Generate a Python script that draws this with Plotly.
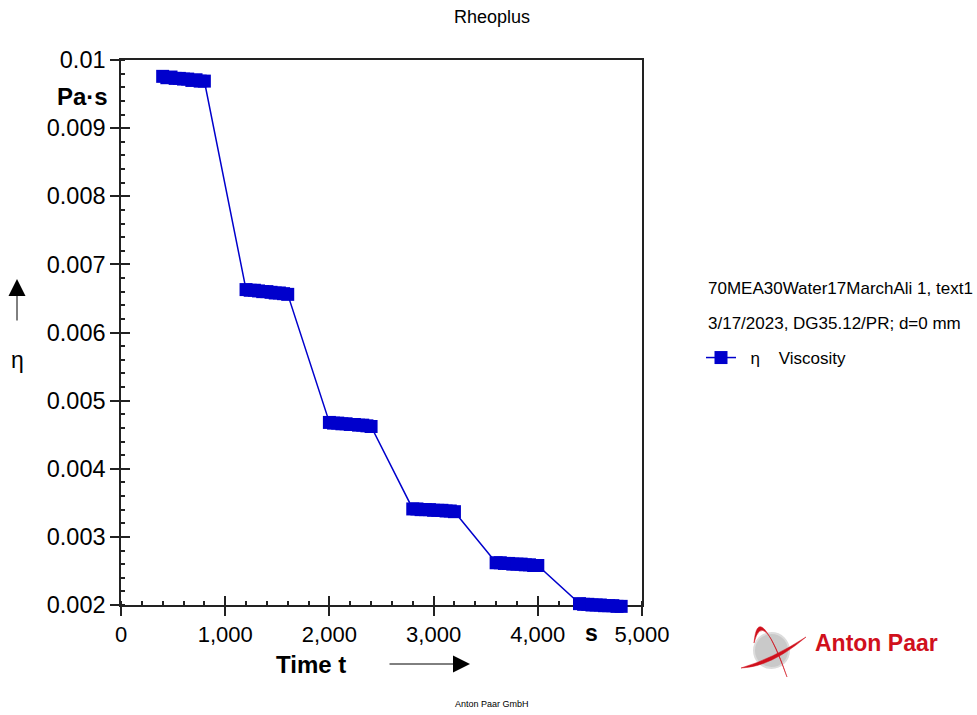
import plotly.graph_objects as go

# ---- measurement data: viscosity steps over time ----
time_s = [
    400, 440, 480, 520, 560, 600, 640, 680, 720, 760, 800,
    1200, 1240, 1280, 1320, 1360, 1400, 1440, 1480, 1520, 1560, 1600,
    2000, 2040, 2080, 2120, 2160, 2200, 2240, 2280, 2320, 2360, 2400,
    2800, 2840, 2880, 2920, 2960, 3000, 3040, 3080, 3120, 3160, 3200,
    3600, 3640, 3680, 3720, 3760, 3800, 3840, 3880, 3920, 3960, 4000,
    4400, 4440, 4480, 4520, 4560, 4600, 4640, 4680, 4720, 4760, 4800,
]
viscosity_pas = [
    0.00976, 0.00974, 0.00975, 0.00973, 0.00973, 0.00972, 0.00972, 0.00970, 0.00971, 0.00969, 0.00969,
    0.00663, 0.00662, 0.00662, 0.00661, 0.00660, 0.00660, 0.00659, 0.00658, 0.00658, 0.00657, 0.00656,
    0.00468, 0.00467, 0.00467, 0.00466, 0.00466, 0.00465, 0.00465, 0.00464, 0.00464, 0.00463, 0.00462,
    0.00341, 0.00341, 0.00340, 0.00340, 0.00340, 0.00339, 0.00339, 0.00339, 0.00338, 0.00338, 0.00337,
    0.00262, 0.00262, 0.00261, 0.00261, 0.00260, 0.00260, 0.00260, 0.00259, 0.00259, 0.00258, 0.00258,
    0.00202, 0.00201, 0.00201, 0.00200, 0.00200, 0.00200, 0.00199, 0.00199, 0.00199, 0.00198, 0.00198,
]

y_tickvals = [0.002, 0.003, 0.004, 0.005, 0.006, 0.007, 0.008, 0.009, 0.01]
y_ticktext = ["0.002", "0.003", "0.004", "0.005", "0.006", "0.007", "0.008", "0.009", "0.01"]
x_tickvals = [0, 1000, 2000, 3000, 4000, 5000]
x_ticktext = ["0", "1,000", "2,000", "3,000", "4,000", "5,000"]
Y_MIN, Y_MAX = 0.002, 0.01
X_MIN, X_MAX = 0, 5000

FONT = "Liberation Sans, Arial, sans-serif"
BLUE = "rgb(0,0,204)"
RED = "#d0101c"
W, H = 977, 715
L, R, T = 121, 642, 60   # plot frame (pixels)
B_AXIS = 605             # pixel row of the x axis line
B_EXT = 640              # data layer extends below the axis so markers are not hidden

dom_lo = (B_EXT - B_AXIS) / (B_EXT - T)
y_ext_min = Y_MAX - (Y_MAX - Y_MIN) / (1 - dom_lo)


def px(x):
    return (x - L) / (R - L)


def py(y):
    return (B_EXT - y) / (B_EXT - T)


def path(points_and_cmds):
    out = []
    for item in points_and_cmds:
        if isinstance(item, str):
            out.append(item)
        else:
            out.append(f"{px(item[0]):.5f},{py(item[1]):.5f}")
    return " ".join(out)


fig = go.Figure()
# empty traces so the framed axes and the crossing-tick overlay axes get drawn
fig.add_trace(go.Scatter(x=[], y=[], xaxis="x", yaxis="y", showlegend=False,
                         hoverinfo="skip"))
fig.add_trace(go.Scatter(x=[], y=[], xaxis="x2", yaxis="y2", showlegend=False,
                         hoverinfo="skip"))
fig.add_trace(go.Scatter(
    x=time_s, y=viscosity_pas, mode="lines+markers", xaxis="x", yaxis="y3",
    name="\u00a0\u00a0η\u00a0\u00a0\u00a0\u00a0Viscosity",
    line=dict(color=BLUE, width=1.5),
    marker=dict(symbol="square", size=13, color=BLUE, line=dict(width=0)),
    cliponaxis=False,
))

axis_line = dict(showline=True, linecolor="#222", linewidth=1.5, mirror=True,
                 showgrid=False, zeroline=False)
tick_style = dict(ticklen=9, tickwidth=1.5, tickcolor="#222")

fig.update_layout(
    width=W, height=H,
    margin=dict(l=L, r=W - R, t=T, b=H - B_EXT, pad=0),
    plot_bgcolor="rgba(0,0,0,0)", paper_bgcolor="white",
    font=dict(family=FONT, color="black"),
    title=dict(text="Rheoplus", x=492 / W, xanchor="center", y=1 - 17 / H,
               yanchor="middle", font=dict(size=18, family=FONT)),
    xaxis=dict(range=[X_MIN, X_MAX], tickvals=x_tickvals, ticktext=x_ticktext,
               ticks="outside", **tick_style, anchor="y",
               tickfont=dict(size=22), minor=dict(ticks="inside", dtick=200, ticklen=4,
                                                   tickcolor="#222", tickwidth=1.5),
               **axis_line),
    yaxis=dict(range=[Y_MIN, Y_MAX], domain=[dom_lo, 1], anchor="x", tickvals=y_tickvals,
               ticktext=y_ticktext, ticks="outside", **tick_style,
               tickfont=dict(size=23.5), minor=dict(ticks="inside", dtick=0.0002, ticklen=4,
                                                     tickcolor="#222", tickwidth=1.5),
               **axis_line),
    xaxis2=dict(overlaying="x", anchor="y", side="bottom", range=[X_MIN, X_MAX],
                tickvals=x_tickvals, ticks="inside", **tick_style,
                showticklabels=False, showgrid=False, zeroline=False, showline=False),
    yaxis2=dict(overlaying="y", anchor="x", side="left", range=[Y_MIN, Y_MAX],
                tickvals=y_tickvals, ticks="inside", **tick_style,
                showticklabels=False, showgrid=False, zeroline=False, showline=False),
    yaxis3=dict(domain=[0, 1], range=[y_ext_min, Y_MAX], anchor="x", visible=False),
    showlegend=True,
    legend=dict(xref="container", yref="container", x=701 / W, y=1 - 358 / H,
                xanchor="left", yanchor="middle", font=dict(size=17, family=FONT),
                bgcolor="rgba(0,0,0,0)", borderwidth=0, itemwidth=30),
)

annotations = [
    dict(x=px(82), y=py(97), text="<b>Pa·s</b>", font=dict(size=24)),
    dict(x=px(17), y=py(360), text="η", font=dict(size=23)),
    dict(x=px(311), y=py(664), text="<b>Time t</b>", font=dict(size=24)),
    dict(x=px(591), y=py(633), text="<b>s</b>", font=dict(size=23)),
    dict(x=px(706), y=py(288), text="70MEA30Water17MarchAli 1, text1",
         xanchor="left", font=dict(size=17)),
    dict(x=px(706), y=py(323), text="3/17/2023, DG35.12/PR; d=0 mm",
         xanchor="left", font=dict(size=17)),
    dict(x=px(492), y=py(704), text="Anton Paar GmbH", font=dict(size=9)),
    dict(x=px(876), y=py(643), text="<b>Anton Paar</b>", font=dict(size=23, color=RED)),
    # axis direction arrows
    dict(x=px(17), y=py(279), ax=0, ay=43, text="", showarrow=True,
         arrowhead=2, arrowsize=3.4, arrowwidth=1, arrowcolor="black",
         font=dict(size=10)),
    dict(x=px(470), y=py(664), ax=-82, ay=0, text="", showarrow=True,
         arrowhead=2, arrowsize=3.4, arrowwidth=1, arrowcolor="black",
         font=dict(size=10)),
]
for a in annotations:
    a.setdefault("xref", "paper")
    a.setdefault("yref", "paper")
    a.setdefault("showarrow", False)
    a.setdefault("xanchor", "center")
    a.setdefault("yanchor", "middle")
    a["font"] = dict(family=FONT, color=a["font"].get("color", "black"),
                     size=a["font"]["size"])
    fig.add_annotation(**a)

# company logo: grey globe with red orbit swooshes
fig.add_shape(type="circle", xref="paper", yref="paper",
              x0=px(754), x1=px(789), y0=py(668), y1=py(633),
              fillcolor="#c9c9c9", line=dict(color="#dcdcdc", width=2), layer="above")
fig.add_shape(type="path", xref="paper", yref="paper", layer="above",
              path=path(["M", (754, 643), "Q", (758, 598), (787, 677),
                         "Q", (763, 606), (754, 643), "Z"]),
              fillcolor=RED, line=dict(color=RED, width=0.5))
fig.add_shape(type="path", xref="paper", yref="paper", layer="above",
              path=path(["M", (741, 668), "Q", (771, 667), (806, 637),
                         "Q", (772, 659), (741, 668), "Z"]),
              fillcolor=RED, line=dict(color=RED, width=0.5))

fig.write_html("out.html")
